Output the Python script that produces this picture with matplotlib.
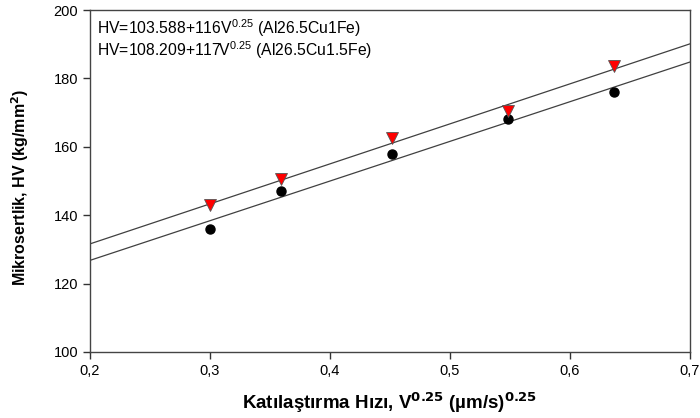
import matplotlib
matplotlib.use("Agg")
from matplotlib import pyplot as plt
from matplotlib.ticker import FuncFormatter
import numpy as np

plt.rcParams['font.family'] = ['Liberation Sans', 'DejaVu Sans']
plt.rcParams['mathtext.default'] = 'regular'

# ===================== data =====================
hiz = [0.300, 0.359, 0.452, 0.548, 0.637]
hv_1fe = [136.0, 147.0, 158.0, 168.0, 176.0]
hv_15fe = [143.0, 150.5, 162.5, 170.5, 183.5]

fit_1fe = (103.588, 116.0)
fit_15fe = (108.209, 117.0)
fit_labels = ["HV=103.588+116V$^{0.25}$ (Al26.5Cu1Fe)",
              "HV=108.209+117V$^{0.25}$ (Al26.5Cu1.5Fe)"]

xticks = [0.2, 0.3, 0.4, 0.5, 0.6, 0.7]
yticks = [100, 120, 140, 160, 180, 200]

# ===================== figure =====================
fig = plt.figure(figsize=(7, 4.18), dpi=100)
ax = fig.add_axes([0.1286, 0.158, 0.857, 0.818])

xf = np.array([0.2, 0.7])
ax.plot(xf, fit_1fe[0] + fit_1fe[1] * xf, color='#404040', lw=0.9)
ax.plot(xf, fit_15fe[0] + fit_15fe[1] * xf, color='#404040', lw=0.9)

ax.plot(hiz, hv_1fe, 'o', color='black', ms=6.5, zorder=3)
ax.plot(hiz, hv_15fe, 'v', mfc='red', mec='#555555', mew=0.6, ms=8, zorder=3)

ax.set_xlim(0.2, 0.7)
ax.set_ylim(100, 200)
ax.set_xticks(xticks)
ax.set_yticks(yticks)
ax.xaxis.set_major_formatter(FuncFormatter(lambda v, p: f"{v:.1f}".replace('.', ',')))
ax.tick_params(direction='out', length=5, width=1, labelsize=10.5, color='#333333')

for s in ax.spines.values():
    s.set_color('#444444')
    s.set_linewidth(1)

# fit equations (upper-left)
ax.text(0.2 + 0.006, 194.6, fit_labels[0], fontsize=11.3, va='center')
ax.text(0.2 + 0.006, 188.2, fit_labels[1], fontsize=11.3, va='center')

ax.set_xlabel(r"Katılaştırma Hızı, V$^{\mathbf{0.25}}$ (µm/s)$^{\mathbf{0.25}}$",
              fontsize=13.5, fontweight='bold')
ax.xaxis.set_label_coords(0.5, -0.112)
ax.set_ylabel(r"Mikrosertlik, HV (kg/mm$^{\mathbf{2}}$)",
              fontsize=11.5, fontweight='bold')
ax.yaxis.set_label_coords(-0.098, 0.48)

plt.savefig("out.png", dpi=100)
